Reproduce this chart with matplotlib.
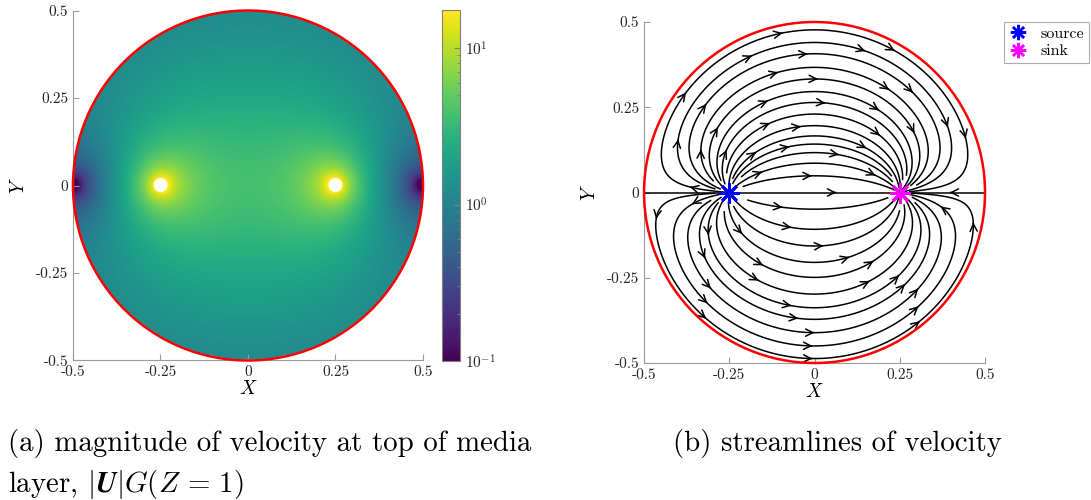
import numpy as np
import matplotlib.pyplot as plt
from matplotlib.colors import LogNorm
from matplotlib.lines import Line2D
from matplotlib.patches import Circle

plt.rcParams['font.family'] = 'serif'
plt.rcParams['font.serif'] = ['cmr10', 'DejaVu Serif']
plt.rcParams['mathtext.fontset'] = 'cm'
plt.rcParams['axes.unicode_minus'] = False
plt.rcParams['axes.formatter.use_mathtext'] = True

# disk of radius 0.5 with a source and a sink on the x axis
radius = 0.5
source = (-0.25, 0.0)
sink = (0.25, 0.0)
strength = 0.375
hole = 0.02
c_min, c_max = 0.1, 17.5

# where the streamlines cross X = 0
seed_y = [0.477, 0.440, 0.407, 0.367, 0.333, 0.296, 0.264, 0.230, 0.196, 0.166,
          0.142, 0.117, 0.086, 0.049, 0.0, -0.049, -0.108, -0.157, -0.205, -0.249,
          -0.298, -0.338, -0.372, -0.411, -0.450, -0.487]
# extra seeds on the axis between the wall and the source / sink
axis_seed_x = [-0.4, 0.4]
# how far short of the source / sink each line stops
cut_src = [0.015, 0.045, 0.03, 0.06]
cut_snk = [0.03, 0.015, 0.055, 0.04]

ticks = [-0.5, -0.25, 0, 0.25, 0.5]
tick_labels = ['-0.5', '-0.25', '0', '0.25', '0.5']


def velocity(x, y):
    z = x + 1j * y
    zs = complex(*source)
    zk = complex(*sink)
    # image points outside the circle keep the wall impermeable
    zs_img = radius**2 / np.conj(zs)
    zk_img = radius**2 / np.conj(zk)
    with np.errstate(divide='ignore', invalid='ignore'):
        w = strength * (1 / (z - zs) + 1 / (z - zs_img) - 1 / (z - zk) - 1 / (z - zk_img))
    return w.real, -w.imag


def direction(p, sgn):
    u, v = velocity(p[0], p[1])
    n = np.hypot(u, v)
    if not np.isfinite(n) or n == 0:
        return None
    return sgn * np.array([u, v]) / n


def trace(p0, sgn, stop, ds=0.002, nmax=3000):
    pts = [np.array(p0, float)]
    for _ in range(nmax):
        p = pts[-1]
        k1 = direction(p, sgn)
        if k1 is None:
            break
        k2 = direction(p + 0.5 * ds * k1, sgn)
        if k2 is None:
            break
        q = p + ds * k2
        if np.hypot(*q) > radius:
            break
        pts.append(q)
        if np.hypot(q[0] - source[0], q[1] - source[1]) < stop[0]:
            break
        if np.hypot(q[0] - sink[0], q[1] - sink[1]) < stop[1]:
            break
    return np.array(pts)


def style_axes(ax):
    ax.set_xlim(-0.5, 0.5)
    ax.set_ylim(-0.5, 0.5)
    ax.set_aspect('equal')
    ax.set_xticks(ticks)
    ax.set_xticklabels(tick_labels)
    ax.set_yticks(ticks)
    ax.set_yticklabels(tick_labels)
    for s in ['top', 'right']:
        ax.spines[s].set_visible(False)
    for s in ['left', 'bottom']:
        ax.spines[s].set_color('#9a9a9a')
        ax.spines[s].set_linewidth(0.8)
    ax.tick_params(direction='in', length=4, color='#9a9a9a', labelsize=11, labelcolor='#262626')
    ax.set_xlabel('$X$', fontsize=14, labelpad=1)
    ax.set_ylabel('$Y$', fontsize=14, labelpad=6)
    ax.add_patch(Circle((0, 0), radius, fill=False, ec='red', lw=1.8, clip_on=False, zorder=5))


fig = plt.figure(figsize=(10.91, 5), dpi=100)
ax1 = fig.add_axes([0.0669, 0.278, 0.3208, 0.702])
cax = fig.add_axes([0.4051, 0.278, 0.0165, 0.702])
ax2 = fig.add_axes([0.5903, 0.274, 0.3126, 0.682])

# (a) speed on a fine grid
g = np.linspace(-0.5, 0.5, 801)
X, Y = np.meshgrid(g, g)
U, V = velocity(X, Y)
speed = np.hypot(U, V)
R = np.hypot(X, Y)
d_src = np.hypot(X - source[0], Y - source[1])
d_snk = np.hypot(X - sink[0], Y - sink[1])
mask = (R > radius) | (d_src < hole) | (d_snk < hole) | ~np.isfinite(speed)
speed = np.ma.masked_array(np.clip(np.nan_to_num(speed), c_min, None), mask)

cmap = plt.get_cmap('viridis').copy()
cmap.set_bad('white')
im = ax1.imshow(speed, origin='lower', extent=[-0.5, 0.5, -0.5, 0.5], cmap=cmap,
                norm=LogNorm(vmin=c_min, vmax=c_max), interpolation='bilinear')
style_axes(ax1)

cb = fig.colorbar(im, cax=cax)
cb.outline.set_edgecolor('#808080')
cb.outline.set_linewidth(0.8)
cax.tick_params(which='both', direction='in', color='#808080', labelsize=11, labelcolor='#262626')
cax.tick_params(which='major', length=4)
cax.tick_params(which='minor', length=2)

# (b) streamlines traced both ways from the seeds
seeds = [(0.0, y) for y in seed_y] + [(x, 0.0) for x in axis_seed_x]
for i, sp in enumerate(seeds):
    stop = (cut_src[i % 4], cut_snk[i % 4])
    if abs(sp[1]) < 1e-9:
        stop = (0.012, 0.012)
    back = trace(sp, -1, stop)[::-1]
    fwd = trace(sp, 1, stop)
    line = np.vstack([back, fwd[1:]])
    ax2.plot(line[:, 0], line[:, 1], color='black', lw=1.1, zorder=3)
    seg = np.hypot(*np.diff(line, axis=0).T)
    arc = np.concatenate([[0], np.cumsum(seg)])
    spacing = 0.34
    start = 0.1 + 0.1 * (i % 3)
    for a in np.arange(start, arc[-1] - 0.06, spacing):
        j = np.searchsorted(arc, a)
        j = min(max(j, 1), len(line) - 2)
        ax2.annotate('', xy=line[j + 1], xytext=line[j - 1],
                     arrowprops=dict(arrowstyle='->', lw=1.1, color='black',
                                     mutation_scale=13, shrinkA=0, shrinkB=0), zorder=3)
style_axes(ax2)
ax2.plot(*source, marker=(8, 2, 0), color='blue', markersize=15, mew=2, ls='none', zorder=6)
ax2.plot(*sink, marker=(8, 2, 0), color='magenta', markersize=15, mew=2, ls='none', zorder=6)

handles = [Line2D([], [], marker=(8, 2, 0), color='blue', ls='none', markersize=11, mew=1.8),
           Line2D([], [], marker=(8, 2, 0), color='magenta', ls='none', markersize=11, mew=1.8)]
leg = fig.legend(handles, ['source', 'sink'], loc='upper left',
                 bbox_to_anchor=(1004 / 1091, 1 - 22 / 500), fontsize=11.5,
                 fancybox=False, edgecolor='#9a9a9a', handlelength=1.2,
                 handletextpad=0.8, borderpad=0.3, labelspacing=0.2, borderaxespad=0)
leg.get_frame().set_linewidth(0.8)

fig.text(8 / 1091, 0.098, '(a) magnitude of velocity at top of media', fontsize=20.8, va='baseline')
fig.text(8 / 1091, 0.016, r'layer, $|\mathbfit{U}|G(Z\,=\,1)$', fontsize=20.8, va='baseline')
fig.text(673 / 1091, 0.098, '(b) streamlines of velocity', fontsize=20.8, va='baseline')

fig.savefig('out.png', dpi=100)
